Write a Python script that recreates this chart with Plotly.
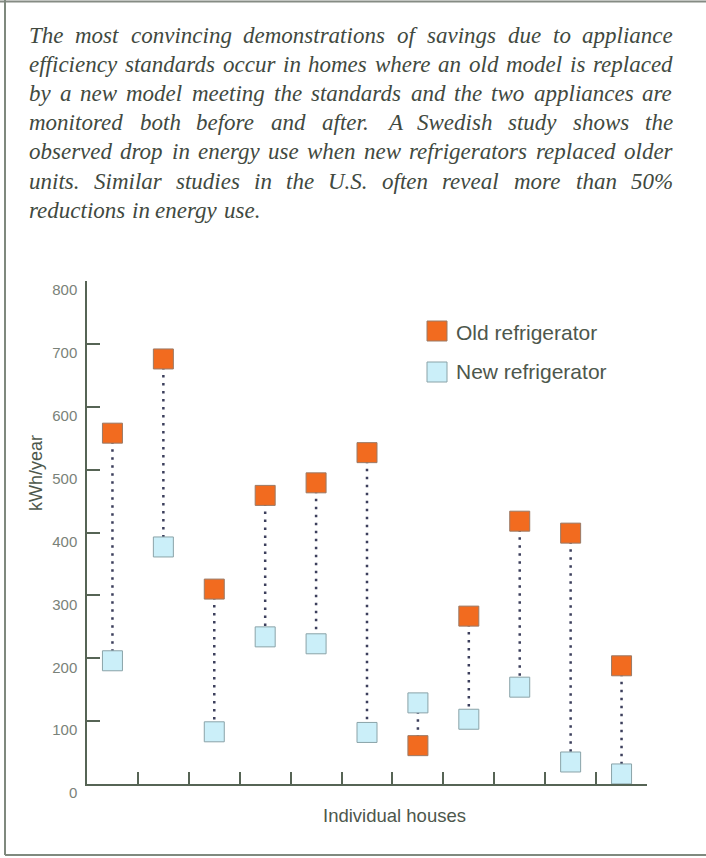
import glob
import os
import struct
import subprocess
import plotly.graph_objects as go

# ---------------- data ----------------
houses = ["House %d" % i for i in range(1, 12)]
old_kwh = [558, 676, 310, 459, 479, 527, 61, 267, 418, 399, 188]
new_kwh = [196, 377, 83, 234, 223, 82, 129, 103, 154, 35, 16]
y_ticks = [0, 100, 200, 300, 400, 500, 600, 700, 800]
y_title = "kWh/year"
x_title = "Individual houses"
legend_labels = ["Old refrigerator", "New refrigerator"]
paragraph_lines = [
    "The most convincing demonstrations of savings due to appliance",
    "efficiency standards occur in homes where an old model is replaced",
    "by a new model meeting the standards and the two appliances are",
    "monitored both before and after. A Swedish study shows the",
    "observed drop in energy use when new refrigerators replaced older",
    "units. Similar studies in the U.S. often reveal more than 50%",
    "reductions in energy use.",
]

# ---------------- styling ----------------
W, H = 706, 858
ML, MR, MT, MB = 87, 59, 281, 74
PW, PH = W - ML - MR, H - MT - MB
ORANGE = "#F26B1F"
BLUE = "#CBEFF9"
AXIS = "#566455"
TICKTXT = "#7a8279"
TXT = "#4d574c"
DOTS = "#3c3f5c"


def px(x):
    return (x - ML) / PW


def py(y):
    return (H - MB - y) / PH


# ---------- font metrics for justified paragraph ----------
def find_font():
    dirs = ["/usr/share/fonts", "/usr/local/share/fonts", os.path.expanduser("~/.fonts"),
            os.path.expanduser("~/.local/share/fonts")]
    for name, fam in [("LiberationSerif-Italic.ttf", "Liberation Serif"),
                      ("DejaVuSerif-Italic.ttf", "DejaVu Serif")]:
        for d in dirs:
            c = glob.glob(os.path.join(d, "**", name), recursive=True)
            if c:
                return c[0], fam
    try:
        out = subprocess.run(["fc-match", "-f", "%{file}", "serif:italic"],
                             capture_output=True, text=True, timeout=5).stdout.strip()
        if out:
            return out, "serif"
    except Exception:
        pass
    return None, "Liberation Serif"


def load_widths(path):
    with open(path, "rb") as f:
        data = f.read()
    nt = struct.unpack(">H", data[4:6])[0]
    tables = {}
    for i in range(nt):
        tag, _, off, ln = struct.unpack(">4sIII", data[12 + 16 * i:28 + 16 * i])
        tables[tag.decode("latin1")] = off
    head = tables["head"]
    upem = struct.unpack(">H", data[head + 18:head + 20])[0]
    hhea = tables["hhea"]
    nhm = struct.unpack(">H", data[hhea + 34:hhea + 36])[0]
    hm = tables["hmtx"]
    adv = [struct.unpack(">H", data[hm + 4 * i:hm + 4 * i + 2])[0] for i in range(nhm)]
    cm = tables["cmap"]
    n = struct.unpack(">H", data[cm + 2:cm + 4])[0]
    sub = None
    for i in range(n):
        pid, eid, off = struct.unpack(">HHI", data[cm + 4 + 8 * i:cm + 12 + 8 * i])
        fmt = struct.unpack(">H", data[cm + off:cm + off + 2])[0]
        if fmt == 4 and pid in (0, 3):
            sub = cm + off
            break
    seg2 = struct.unpack(">H", data[sub + 6:sub + 8])[0]
    segs = seg2 // 2
    ends = struct.unpack(">%dH" % segs, data[sub + 14:sub + 14 + seg2])
    so = sub + 16 + seg2
    starts = struct.unpack(">%dH" % segs, data[so:so + seg2])
    do = so + seg2
    deltas = struct.unpack(">%dh" % segs, data[do:do + seg2])
    ro = do + seg2
    ros = struct.unpack(">%dH" % segs, data[ro:ro + seg2])

    def gid(ch):
        cp = ord(ch)
        for k in range(segs):
            if ends[k] >= cp:
                if starts[k] <= cp:
                    if ros[k] == 0:
                        return (cp + deltas[k]) & 0xFFFF
                    a = ro + 2 * k + ros[k] + 2 * (cp - starts[k])
                    g = struct.unpack(">H", data[a:a + 2])[0]
                    return (g + deltas[k]) & 0xFFFF if g else 0
                return 0
        return 0

    def width(s):
        return sum(adv[min(gid(c), nhm - 1)] for c in s) / upem

    return width


SERIF = "Liberation Serif"
try:
    fpath, SERIF = find_font()
    text_width = load_widths(fpath) if fpath else None
except Exception:
    fpath, text_width = None, None
if text_width is None:
    def text_width(s):
        return 0.42 * len(s)

TX0, TX1 = 28, 672
natural = [text_width(l) for l in paragraph_lines[:-1]]
fs_fit = (TX1 - TX0) / max(natural)
PFS = min(23.0, fs_fit * 0.99)

annotations = []
for i, line in enumerate(paragraph_lines):
    words = line.split(" ")
    ww = [text_width(w) * PFS for w in words]
    if i < len(paragraph_lines) - 1 and len(words) > 1:
        gap = ((TX1 - TX0) - sum(ww)) / (len(words) - 1)
    else:
        gap = text_width(" ") * PFS
    baseline = 43 + 29.2 * i
    cx = TX0
    for w, wpx in zip(words, ww):
        annotations.append(dict(
            text=w, x=px(cx), y=py(baseline - 0.34 * PFS), xref="paper", yref="paper",
            xanchor="left", yanchor="middle", showarrow=False, borderpad=0,
            font=dict(family=SERIF, size=PFS, color="#414940", style="italic")))
        cx += wpx + gap

# axis titles and legend text
annotations.append(dict(text=y_title, x=px(36), y=py(473), xref="paper", yref="paper",
                        textangle=-90, showarrow=False, xanchor="center", yanchor="middle",
                        font=dict(family="Liberation Sans", size=18, color=TXT)))
annotations.append(dict(text=x_title, x=px(394), y=py(815), xref="paper", yref="paper",
                        showarrow=False, xanchor="center", yanchor="middle",
                        font=dict(family="Liberation Sans", size=18.5, color=TXT)))
for lab, yc in zip(legend_labels, [332, 371]):
    annotations.append(dict(text=lab, x=px(455), y=py(yc), xref="paper", yref="paper",
                            showarrow=False, xanchor="left", yanchor="middle", borderpad=0,
                            font=dict(family="Liberation Sans", size=21, color=TXT)))

shapes = [
    # frame
    dict(type="line", xref="paper", yref="paper", x0=px(0), x1=px(W), y0=py(1.5), y1=py(1.5),
         line=dict(color="#858b84", width=2)),
    dict(type="line", xref="paper", yref="paper", x0=px(5), x1=px(5), y0=py(0), y1=py(855),
         line=dict(color="#7f897e", width=2)),
    dict(type="line", xref="paper", yref="paper", x0=px(5), x1=px(W), y0=py(855), y1=py(855),
         line=dict(color="#7f897e", width=2)),
    # legend swatches
    dict(type="rect", xref="paper", yref="paper", x0=px(427), x1=px(447), y0=py(321), y1=py(341),
         fillcolor=ORANGE, line=dict(color="#9a7a66", width=1)),
    dict(type="rect", xref="paper", yref="paper", x0=px(427), x1=px(447), y0=py(362), y1=py(382),
         fillcolor=BLUE, line=dict(color="#8aa3a8", width=1)),
]

# ---------------- traces ----------------
lx, ly = [], []
for h, o, n in zip(houses, old_kwh, new_kwh):
    lx += [h, h, None]
    ly += [o, n, None]

fig = go.Figure()
fig.add_trace(go.Scatter(x=lx, y=ly, mode="lines", hoverinfo="skip", showlegend=False,
                         line=dict(color=DOTS, width=2.5, dash="2.5px,5.5px")))
fig.add_trace(go.Scatter(x=houses, y=new_kwh, mode="markers", name=legend_labels[1],
                         showlegend=False, cliponaxis=False,
                         marker=dict(symbol="square", size=20, color=BLUE,
                                     line=dict(color="#8aa3a8", width=1))))
fig.add_trace(go.Scatter(x=houses, y=old_kwh, mode="markers", name=legend_labels[0],
                         showlegend=False, cliponaxis=False,
                         marker=dict(symbol="square", size=20, color=ORANGE,
                                     line=dict(color="#9a7a66", width=1))))

fig.update_layout(
    width=W, height=H, autosize=False,
    margin=dict(l=ML, r=MR, t=MT, b=MB, pad=0),
    paper_bgcolor="white", plot_bgcolor="white",
    showlegend=False,
    annotations=annotations, shapes=shapes,
    font=dict(family="Liberation Sans"),
)
fig.update_xaxes(type="category", categoryorder="array", categoryarray=houses,
                 range=[-0.5, len(houses) - 0.5], tickson="boundaries",
                 ticks="inside", ticklen=12, tickwidth=1.5, tickcolor=AXIS,
                 showticklabels=False, showline=True, linecolor=AXIS, linewidth=1.5,
                 showgrid=False, zeroline=False)
fig.update_yaxes(range=[0, 800], tickvals=y_ticks, ticks="inside", ticklen=13, tickwidth=1.5,
                 tickcolor=AXIS, showline=True, linecolor=AXIS, linewidth=1.5,
                 showgrid=False, zeroline=False, ticklabelshift=9, ticklabelstandoff=5,
                 tickfont=dict(family="Liberation Sans", size=15, color=TICKTXT))

fig.write_html("out.html", config={"displayModeBar": False},
               post_script="document.body.style.margin='0';document.body.style.overflow='hidden';")
